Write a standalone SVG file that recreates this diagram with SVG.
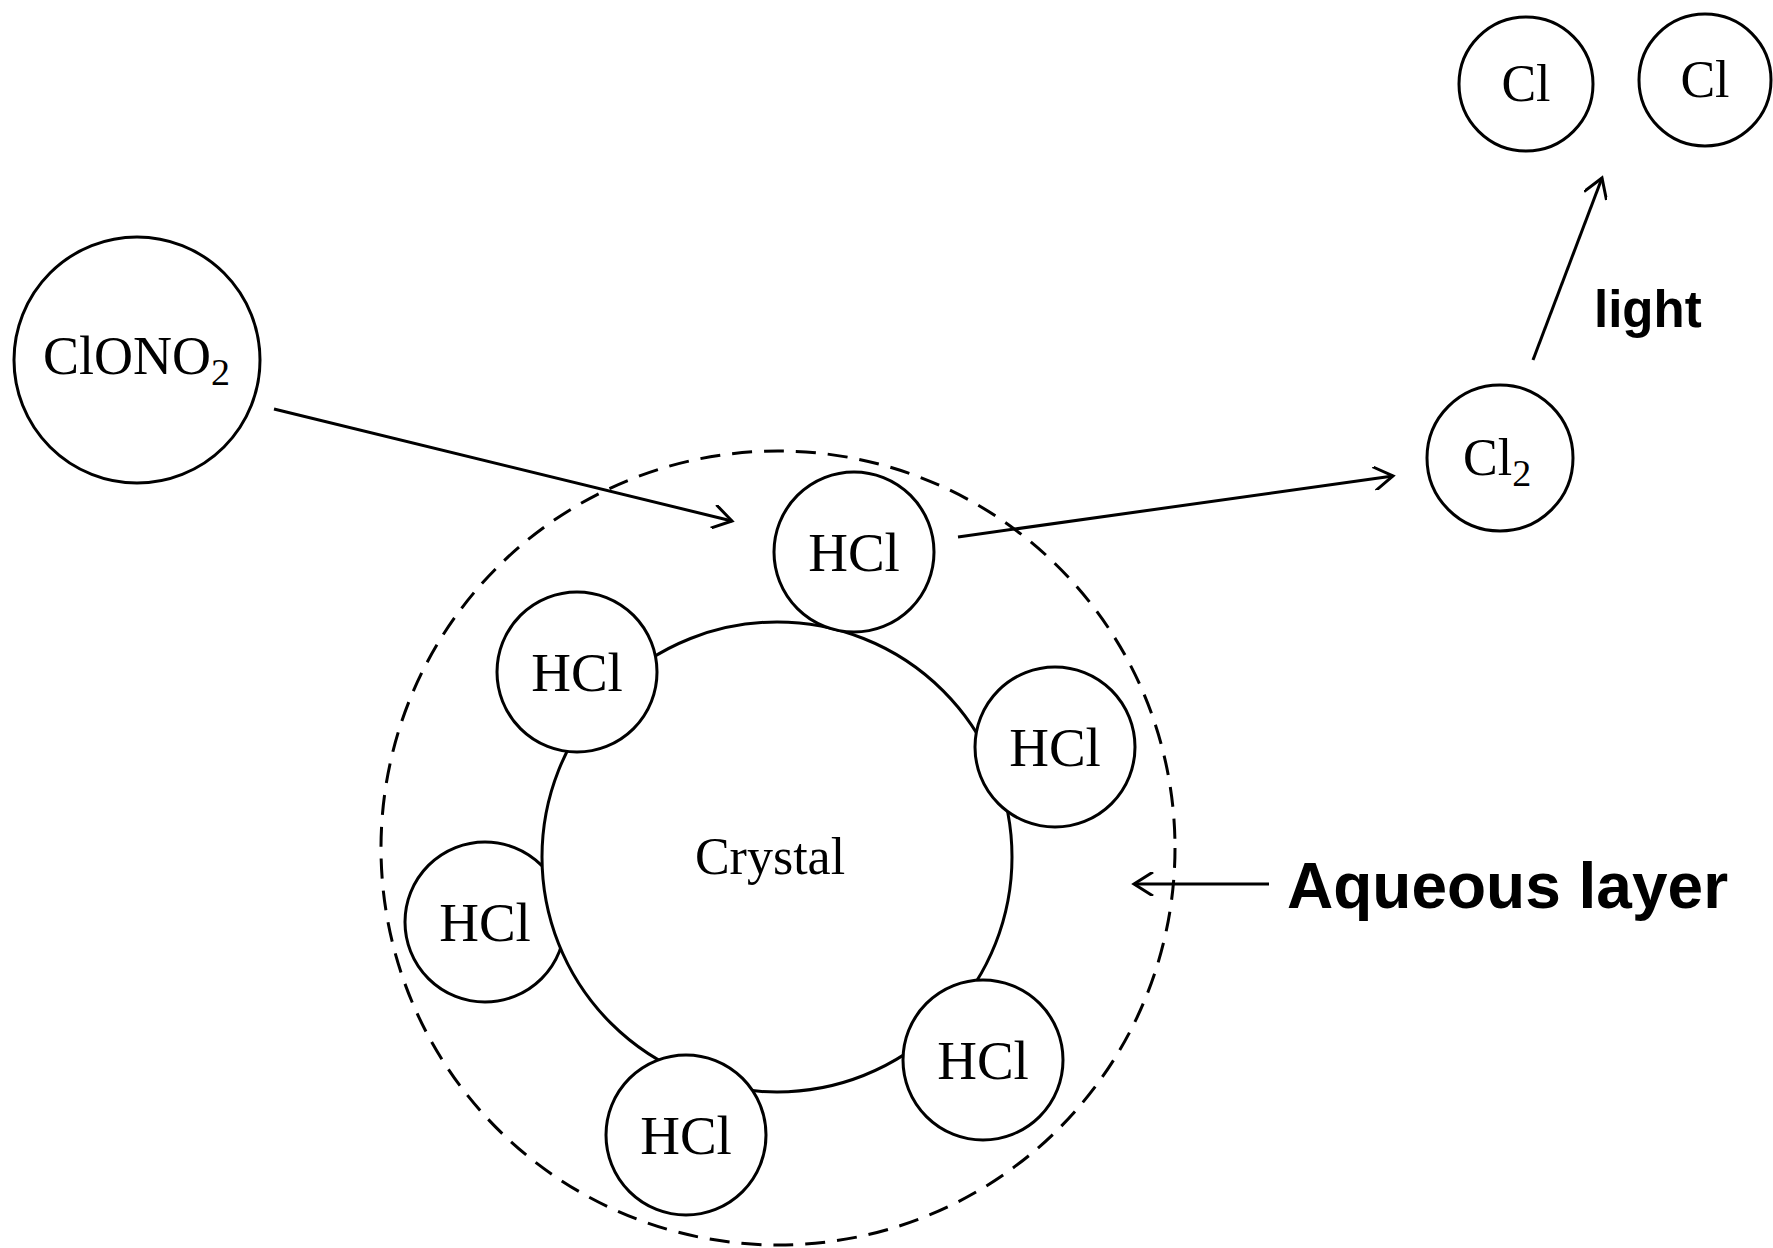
<svg xmlns="http://www.w3.org/2000/svg" width="1773" height="1248" viewBox="0 0 1773 1248">
<style>
.c{fill:#fff;stroke:#000;stroke-width:3}
.t{font-family:"Liberation Serif",serif;font-size:52px;fill:#000;text-anchor:middle}
.h{font-size:55px}
.b{font-family:"Liberation Sans",Arial,sans-serif;font-weight:bold;fill:#000}
.ln{stroke:#000;stroke-width:3;fill:none;marker-end:url(#ah)}
</style>
<defs>
<marker id="ah" viewBox="0 0 24 24" refX="21" refY="12" markerWidth="24" markerHeight="24" orient="auto" markerUnits="userSpaceOnUse">
<path d="M2,0 L21,12 L2,24" fill="none" stroke="#000" stroke-width="3"/>
</marker>
</defs>
<rect width="1773" height="1248" fill="#fff"/>
<g id="aqueous-layer">
<circle cx="778" cy="848" r="397" fill="none" stroke="#000" stroke-width="3" stroke-dasharray="20 12"/>
</g>
<g id="hcl-left">
<circle class="c" cx="485" cy="922" r="80"/>
<text class="t h" x="485" y="941">HCl</text>
</g>
<g id="crystal">
<circle class="c" cx="777" cy="857" r="235"/>
<text class="t" x="770" y="874">Crystal</text>
</g>
<g id="hcl-top">
<circle class="c" cx="854" cy="552" r="80"/>
<text class="t h" x="854" y="571">HCl</text>
</g>
<g id="hcl-upper-left">
<circle class="c" cx="577" cy="672" r="80"/>
<text class="t h" x="577" y="691">HCl</text>
</g>
<g id="hcl-right">
<circle class="c" cx="1055" cy="747" r="80"/>
<text class="t h" x="1055" y="766">HCl</text>
</g>
<g id="hcl-bottom">
<circle class="c" cx="686" cy="1135" r="80"/>
<text class="t h" x="686" y="1154">HCl</text>
</g>
<g id="hcl-bottom-right">
<circle class="c" cx="983" cy="1060" r="80"/>
<text class="t h" x="983" y="1079">HCl</text>
</g>
<g id="clono2">
<circle class="c" cx="137" cy="360" r="123"/>
<text class="t" x="43" y="374" style="text-anchor:start;font-size:54px">ClONO<tspan font-size="38" dy="11">2</tspan></text>
</g>
<g id="cl2">
<circle class="c" cx="1500" cy="458" r="73"/>
<text class="t" x="1463" y="475" style="text-anchor:start">Cl<tspan font-size="38" dy="11">2</tspan></text>
</g>
<g id="cl-a">
<circle class="c" cx="1526" cy="84" r="67"/>
<text class="t" x="1526" y="101">Cl</text>
</g>
<g id="cl-b">
<circle class="c" cx="1705" cy="80" r="66"/>
<text class="t" x="1705" y="97">Cl</text>
</g>
<g id="connectors">
<line class="ln" x1="274" y1="409" x2="732" y2="521"/>
<line class="ln" x1="958" y1="537" x2="1393" y2="476"/>
<line class="ln" x1="1533" y1="360" x2="1602" y2="178"/>
<line class="ln" x1="1269" y1="884" x2="1134" y2="884"/>
</g>
<g id="labels">
<text class="b" x="1594" y="327" font-size="51">light</text>
<text class="b" x="1287" y="908" font-size="64">Aqueous layer</text>
</g>
</svg>
